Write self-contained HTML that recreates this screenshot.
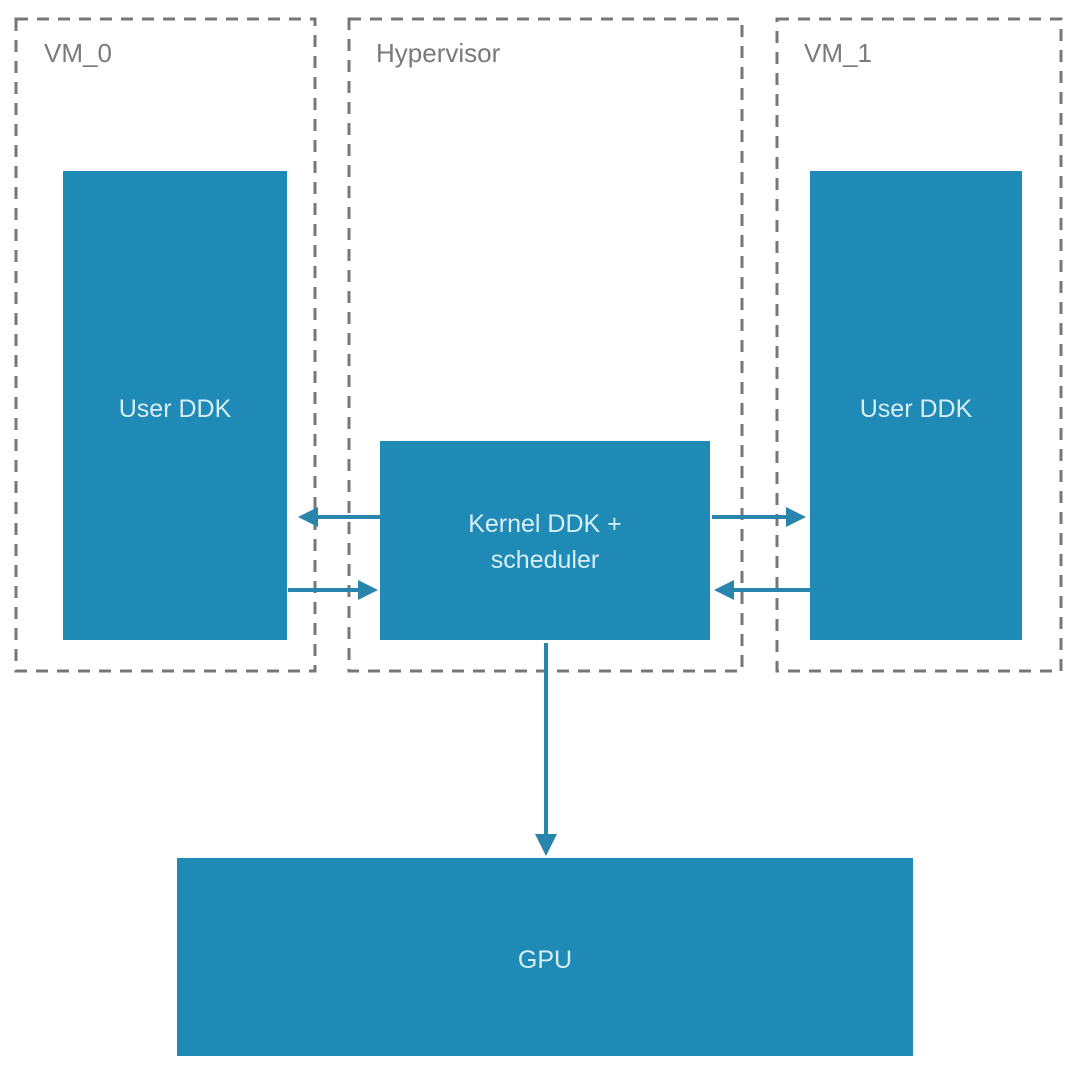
<!DOCTYPE html>
<html><head><meta charset="utf-8"><style>
body{margin:0;background:#fff;}
svg{display:block;font-family:"Liberation Sans",sans-serif;}
</style></head><body>
<svg width="1080" height="1076" viewBox="0 0 1080 1076">
<g fill="none" stroke="#777" stroke-width="3" stroke-dasharray="12,9">
<rect x="16" y="19" width="299" height="652"/>
<rect x="349" y="19" width="393" height="652"/>
<rect x="777" y="19" width="284" height="652"/>
</g>
<g fill="#7a7a7a" font-size="26">
<text x="44" y="62">VM_0</text>
<text x="376" y="62">Hypervisor</text>
<text x="804" y="62">VM_1</text>
</g>
<g fill="#1f8ab5">
<rect x="63" y="171" width="224" height="469"/>
<rect x="810" y="171" width="212" height="469"/>
<rect x="380" y="441" width="330" height="199"/>
<rect x="177" y="858" width="736" height="198"/>
</g>
<g fill="#d8eef7" font-size="25" text-anchor="middle">
<text x="175" y="417">User DDK</text>
<text x="916" y="417">User DDK</text>
<text x="545" y="532">Kernel DDK +</text>
<text x="545" y="568">scheduler</text>
<text x="545" y="968">GPU</text>
</g>
<g stroke="#2a85ad" stroke-width="4">
<line x1="380" y1="517" x2="315" y2="517"/>
<line x1="288" y1="590" x2="360" y2="590"/>
<line x1="712" y1="517" x2="790" y2="517"/>
<line x1="810" y1="590" x2="732" y2="590"/>
<line x1="546" y1="643" x2="546" y2="838"/>
</g>
<g fill="#2a85ad">
<polygon points="298,517 318,507 318,527"/>
<polygon points="378,590 358,580 358,600"/>
<polygon points="806,517 786,507 786,527"/>
<polygon points="714,590 734,580 734,600"/>
<polygon points="546,856 535,834 557,834"/>
</g>
</svg>
</body></html>
